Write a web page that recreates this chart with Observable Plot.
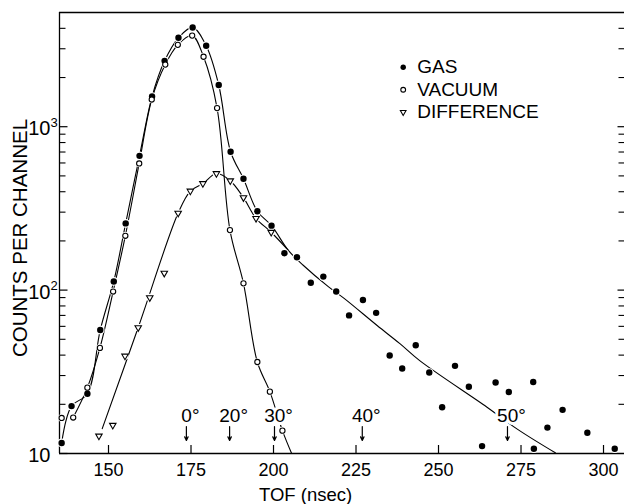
<!DOCTYPE html>
<html><head><meta charset="utf-8">
<script src="https://cdn.jsdelivr.net/npm/d3@7"></script>
<script src="https://cdn.jsdelivr.net/npm/@observablehq/plot@0.6"></script>
<style>body{margin:0;background:#fff}svg{display:block}</style>
</head><body><div id="chart"></div>
<script>
// ---- data ----
const gasTOF = [135.8,138.8,143.6,147.5,151.6,155.2,159.4,163.2,167.0,171.2,175.5,179.6,183.4,187.0,190.9,195.1,199.4,203.3,207.1,211.3,215.1,219.0,222.9,227.1,231.1,235.2,239.0,243.1,247.2,251.1,255.0,259.2,263.2,267.3,271.3,278.7,278.9,283.0,287.6,295.1,303.4];
const gasCounts = [11.6,19.5,23.2,57,113,256,663,1530,2530,3500,4050,3130,1800,703,480,304,248,168,159,111,121,98,70,87,72.6,39.8,33.1,46,31.3,19.2,34.4,25.6,11.1,27.2,23.8,27.4,10.7,14.4,18.5,13.4,10.7];

const vacuumTOF = [135.8,139.3,143.6,147.4,151.4,155.1,159.3,163.1,167.2,171.0,175.35,178.8,182.9,186.8,190.9,195.1,198.9,202.7];
const vacuumCounts = [16.5,16.6,25.3,44.3,98,215,596,1466,2400,3170,3610,2680,1300,233,110,36.3,23.9,13.8];

const diffTOF = [147.1,151.3,155.0,159.0,162.5,166.9,171.1,174.8,178.6,182.7,186.9,190.9,194.7,199.3];
const diffCounts = [12.8,14.9,39.5,59,90,127,296,404,449,517,467,368,275,226];

// drawn curves (fits)
const gasFitTOF = [204.5,209,216.6,221.4,231.4,238.3,244.3,264.7,274.1,285.4];
const gasFitCounts = [175,142,105,89,60.7,47,37,19.2,14,10.1];
const vacuumTailTOF = [205.5];
const vacuumTailCounts = [10];
const diffCurveTOF = [148.1,159.0,171.1,174.8,178.6,182.7,186.9,190.9,194.7,199.3,204.5];
const diffCurveCounts = [14.2,59,296,404,449,517,467,368,275,226,175];

// angle markers
const angleLabels = ["0°","20°","30°","40°","50°"];
const angleTOF = [173.6,186.7,200.3,226.9,270.9];

// ticks
const xTicks = [150,175,200,225,250,275,300];
const yMajor = [10,100,1000];
const yMajorBase = ["10","10","10"];
const yMajorSup = ["","2","3"];
const yMinor = [20,30,40,50,60,70,80,90,200,300,400,500,600,700,800,900,2000,3000,4000];

const legendLabels = ["GAS","VACUUM","DIFFERENCE"];

// ---- build tables ----
const zip = (xs, ys) => xs.map((x, i) => ({tof: x, counts: ys[i]}));
const gas = zip(gasTOF, gasCounts);
const vacuum = zip(vacuumTOF, vacuumCounts);
const diff = zip(diffTOF, diffCounts);
const gasCurve = gas.filter(d => d.tof <= 199.4).concat(zip(gasFitTOF, gasFitCounts));
const vacuumCurve = vacuum.slice(1).concat(zip(vacuumTailTOF, vacuumTailCounts));
const diffCurve = zip(diffCurveTOF, diffCurveCounts);
const angles = angleLabels.map((t, i) => ({label: t, tof: angleTOF[i]}));
const yMajorRows = yMajor.map((v, i) => ({v, base: yMajorBase[i], sup: yMajorSup[i]}));

const xDomain = [135.15, 306.36];
const yDomain = [10, 5000];
const frameW = 624 - 59 - 0;
const legendX = 239.3;
const legendY = [2312, 1683, 1227];
const legendRows = legendLabels.map((l, i) => ({label: l, tof: legendX, counts: legendY[i]}));

const FONT = "Liberation Sans, Arial, sans-serif";

const chart = Plot.plot({
  width: 624,
  height: 504,
  marginLeft: 59,
  marginRight: 0,
  marginTop: 12,
  marginBottom: 51,
  style: {fontFamily: FONT, fontSize: "18px", color: "black", background: "white"},
  x: {type: "linear", domain: xDomain, axis: null},
  y: {type: "log", domain: yDomain, axis: null},
  marks: [
    // frame (top, left, bottom)
    Plot.ruleY([yDomain[1]], {stroke: "black", strokeWidth: 1.3}),
    Plot.ruleY([yDomain[0]], {stroke: "black", strokeWidth: 1.3}),
    Plot.ruleX([xDomain[0]], {stroke: "black", strokeWidth: 1.3}),
    // x ticks (inward)
    Plot.ruleX(xTicks, {insetTop: 441 - 8, stroke: "black", strokeWidth: 1.2}),
    Plot.text(xTicks, {x: d => d, text: d => String(d), frameAnchor: "bottom", lineAnchor: "top", dy: 10, fontSize: 18}),
    // y ticks left (inward)
    Plot.ruleY(yMajor, {insetRight: frameW - 8.5, stroke: "black", strokeWidth: 1.2}),
    Plot.ruleY(yMinor, {insetRight: frameW - 6.5, stroke: "black", strokeWidth: 1.1}),
    // y ticks right (inward)
    Plot.ruleY(yMajor.slice(1), {insetLeft: frameW - 6.5, stroke: "black", strokeWidth: 1.2}),
    Plot.ruleY(yMinor, {insetLeft: frameW - 5.5, stroke: "black", strokeWidth: 1.1}),
    // y labels
    Plot.text(yMajorRows, {y: "v", text: "base", frameAnchor: "left", textAnchor: "end", dx: -9, dy: 2, fontSize: 20}),
    Plot.text(yMajorRows, {y: "v", text: "sup", frameAnchor: "left", textAnchor: "start", dx: -9, dy: -4, fontSize: 13}),
    // axis titles
    Plot.text(["TOF (nsec)"], {x: () => 209.7, text: d => d, frameAnchor: "bottom", lineAnchor: "top", textAnchor: "middle", dy: 34, fontSize: 18.5}),
    Plot.text(["COUNTS PER CHANNEL"], {text: d => d, frameAnchor: "left", textAnchor: "middle", lineAnchor: "middle", dx: -39, dy: 5, rotate: -90, fontSize: 20.5}),
    // curves
    Plot.line(gasCurve, {x: "tof", y: "counts", curve: "catmull-rom", stroke: "black", strokeWidth: 1.1}),
    Plot.line(vacuumCurve, {x: "tof", y: "counts", curve: "catmull-rom", stroke: "black", strokeWidth: 1.1}),
    Plot.line(diffCurve, {x: "tof", y: "counts", curve: "catmull-rom", stroke: "black", strokeWidth: 1.1}),
    // halos behind markers
    Plot.dot(gas, {x: "tof", y: "counts", r: 4.4, fill: "white"}),
    Plot.dot(vacuum, {x: "tof", y: "counts", r: 3.8, fill: "white"}),
    Plot.dot(diff, {x: "tof", y: "counts", r: 3.8, fill: "white"}),
    // markers
    Plot.dot(gas, {x: "tof", y: "counts", r: 3.2, fill: "black", stroke: "none"}),
    Plot.dot(vacuum, {x: "tof", y: "counts", r: 2.6, fill: "white", stroke: "black", strokeWidth: 1.1}),
    Plot.dot(diff, {x: "tof", y: "counts", r: 2.4, symbol: "triangle", rotate: 180, fill: "white", stroke: "black", strokeWidth: 1.1}),
    // angle markers
    Plot.text(angles, {x: "tof", y: () => 15.48, text: "label", lineAnchor: "bottom", dx: 4, fontSize: 19, stroke: "white", strokeWidth: 6, paintOrder: "stroke", fill: "black"}),
    Plot.arrow(angles, {x1: "tof", x2: "tof", y1: () => 14.63, y2: () => 12.01, headLength: 5, headAngle: 50, stroke: "black", strokeWidth: 1.2}),
    // legend
    Plot.dot(legendRows.slice(0, 1), {x: "tof", y: "counts", r: 2.7, fill: "black"}),
    Plot.dot(legendRows.slice(1, 2), {x: "tof", y: "counts", r: 2.4, fill: "white", stroke: "black", strokeWidth: 1.1}),
    Plot.dot(legendRows.slice(2, 3), {x: "tof", y: "counts", r: 2.1, symbol: "triangle", rotate: 180, fill: "white", stroke: "black", strokeWidth: 1.1}),
    Plot.text(legendRows, {x: "tof", y: "counts", text: "label", textAnchor: "start", dx: 14, fontSize: 19})
  ]
});
document.getElementById("chart").appendChild(chart);
</script>
</body></html>
